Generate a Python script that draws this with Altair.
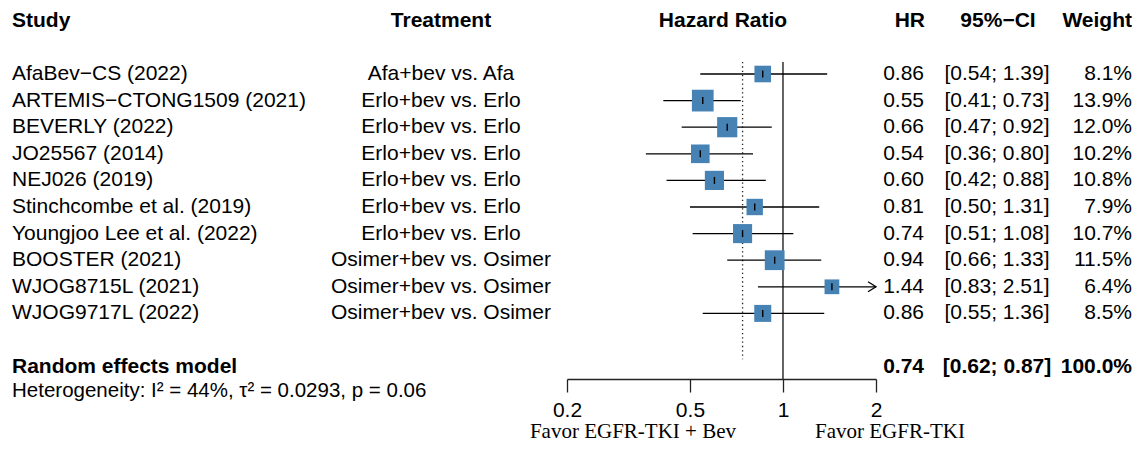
import altair as alt
import pandas as pd

# ---------------- data ----------------
studies = ["AfaBev\u2212CS (2022)", "ARTEMIS\u2212CTONG1509 (2021)", "BEVERLY (2022)",
           "JO25567 (2014)", "NEJ026 (2019)", "Stinchcombe et al. (2019)",
           "Youngjoo Lee et al. (2022)", "BOOSTER (2021)", "WJOG8715L (2021)",
           "WJOG9717L (2022)"]
treatments = ["Afa+bev vs. Afa", "Erlo+bev vs. Erlo", "Erlo+bev vs. Erlo",
              "Erlo+bev vs. Erlo", "Erlo+bev vs. Erlo", "Erlo+bev vs. Erlo",
              "Erlo+bev vs. Erlo", "Osimer+bev vs. Osimer", "Osimer+bev vs. Osimer",
              "Osimer+bev vs. Osimer"]
hr = [0.86, 0.55, 0.66, 0.54, 0.60, 0.81, 0.74, 0.94, 1.44, 0.86]
lower = [0.54, 0.41, 0.47, 0.36, 0.42, 0.50, 0.51, 0.66, 0.83, 0.55]
upper = [1.39, 0.73, 0.92, 0.80, 0.88, 1.31, 1.08, 1.33, 2.51, 1.36]
weights = [8.1, 13.9, 12.0, 10.2, 10.8, 7.9, 10.7, 11.5, 6.4, 8.5]

pooled_hr = 0.74
pooled_lo = 0.62
pooled_hi = 0.87
pooled_weight = 100.0

axis_ticks = [0.2, 0.5, 1, 2]
x_limits = [0.2, 2]
headers = ["Study", "Treatment", "Hazard Ratio", "HR", "95%\u2212CI", "Weight"]
model_label = "Random effects model"
heterogeneity = "Heterogeneity: I\u00b2 = 44%, \u03c4\u00b2 = 0.0293, p = 0.06"
favor_left = "Favor EGFR-TKI + Bev"
favor_right = "Favor EGFR-TKI"

# ---------------- layout (styles / positions) ----------------
W, H = 1124, 438
SANS = "Liberation Sans"
SERIF = "Liberation Serif"
FS = 21
ROW_HEADER = -1
ROW_MODEL = 12
ROW_HET = 12.9
ROW_FAVOR = 14.45
LINE_TOP = 0.55
LINE_AXIS = 12.47
DOT_BOTTOM = 11.72
DIAMOND_HALF = 0.245

rows = list(range(1, len(studies) + 1))
df = pd.DataFrame({
    "row": rows,
    "study": studies,
    "treat": treatments,
    "hr": hr,
    "lo": lower,
    "hi": upper,
    "hi_draw": [min(u, x_limits[1]) for u in upper],
    "w": weights,
    "hr_txt": [f"{v:.2f}" for v in hr],
    "ci_txt": [f"[{l:.2f}; {u:.2f}]" for l, u in zip(lower, upper)],
    "w_txt": [f"{v:.1f}%" for v in weights],
})
df_arrow = df[df["hi"] > x_limits[1]].assign(xa=x_limits[1])

x_scale = alt.Scale(type="log", domain=x_limits, range=[559, 868])
x_axis = alt.Axis(values=axis_ticks, orient="bottom", offset=-(H - 371), tickSize=13,
                  domainColor="#222222", tickColor="#222222", domainWidth=1.3,
                  tickWidth=1.3, labelFontSize=FS, labelFont=SANS, labelColor="black",
                  labelPadding=7, title=None, grid=False, labelFlush=False,
                  labelOverlap=False, format="~g")
y_scale = alt.Scale(domain=[1, 10], range=[66, 305.4], zero=False, nice=False)


def X(field):
    return alt.X(field, type="quantitative", scale=x_scale, axis=x_axis)


def Y(field="row"):
    return alt.Y(field, type="quantitative", scale=y_scale, axis=None)


# reference lines
ref_df = pd.DataFrame({"x": [1], "y": [LINE_TOP], "y2": [LINE_AXIS]})
null_line = alt.Chart(ref_df).mark_rule(color="#222222", strokeWidth=1.4).encode(
    x=X("x"), y=Y("y"), y2="y2")
pool_df = pd.DataFrame({"x": [pooled_hr], "y": [LINE_TOP], "y2": [DOT_BOTTOM]})
pool_line = alt.Chart(pool_df).mark_rule(color="#222222", strokeWidth=1.3,
                                         strokeDash=[1.3, 3]).encode(
    x=X("x"), y=Y("y"), y2="y2")

ci = alt.Chart(df).mark_rule(color="black", strokeWidth=1.3).encode(
    x=X("lo"), x2="hi_draw", y=Y())
squares = alt.Chart(df).mark_square(filled=True, color="#4682B4", opacity=1).encode(
    x=X("hr"), y=Y(),
    size=alt.Size("w:Q", scale=alt.Scale(domain=[0, 14], range=[0, 476]), legend=None))
centers = alt.Chart(df).mark_point(shape="M0,-1L0,1", size=49, filled=False,
                                   stroke="black", strokeWidth=1.4, opacity=1).encode(
    x=X("hr"), y=Y())
arrows = alt.Chart(df_arrow).mark_point(shape="M-1.6,-1L0,0L-1.6,1", size=100,
                                        filled=False, stroke="black",
                                        strokeWidth=1.3, opacity=1).encode(
    x=X("xa"), y=Y())

dia_df = pd.DataFrame({
    "x": [pooled_lo, pooled_hr, pooled_hi],
    "y": [ROW_MODEL, ROW_MODEL - DIAMOND_HALF, ROW_MODEL],
    "y2": [ROW_MODEL, ROW_MODEL + DIAMOND_HALF, ROW_MODEL],
})
diamond = alt.Chart(dia_df).mark_area(color="#A5232B", orient="vertical",
                                      opacity=1).encode(
    x=X("x"), y=Y("y"), y2="y2", order="x:Q")


def txt(data, field, x, align, bold=False, size=FS, font=SANS):
    kw = dict(align=align, baseline="middle", font=font, fontSize=size,
              color="black", fontWeight="bold" if bold else "normal")
    return alt.Chart(data).mark_text(**kw).encode(
        x=alt.value(x), y=Y(), text=alt.Text(field, type="nominal"))


hdr = pd.DataFrame({"row": [ROW_HEADER] * len(headers), "t": headers})
layers = [
    null_line, pool_line, ci, squares, centers, arrows, diamond,
    txt(df, "study", 4, "left"),
    txt(df, "treat", 433, "center"),
    txt(df, "hr_txt", 916, "right"),
    txt(df, "ci_txt", 989, "center"),
    txt(df, "w_txt", 1124, "right"),
    txt(hdr[hdr.t == "Study"], "t", 4, "left", bold=True),
    txt(hdr[hdr.t == "Treatment"], "t", 433, "center", bold=True),
    txt(hdr[hdr.t == "Hazard Ratio"], "t", 715, "center", bold=True),
    txt(hdr[hdr.t == "HR"], "t", 917, "right", bold=True),
    txt(hdr[hdr.t == "95%\u2212CI"], "t", 990, "center", bold=True),
    txt(hdr[hdr.t == "Weight"], "t", 1124, "right", bold=True),
]

model_df = pd.DataFrame({
    "row": [ROW_MODEL],
    "label": [model_label],
    "hr_txt": [f"{pooled_hr:.2f}"],
    "ci_txt": [f"[{pooled_lo:.2f}; {pooled_hi:.2f}]"],
    "w_txt": [f"{pooled_weight:.1f}%"],
})
layers += [
    txt(model_df, "label", 4, "left", bold=True),
    txt(model_df, "hr_txt", 916, "right", bold=True),
    txt(model_df, "ci_txt", 989, "center", bold=True),
    txt(model_df, "w_txt", 1124, "right", bold=True),
]
het_df = pd.DataFrame({"row": [ROW_HET], "t": [heterogeneity]})
layers.append(txt(het_df, "t", 4, "left", size=20.5))
fav_df = pd.DataFrame({"row": [ROW_FAVOR, ROW_FAVOR], "t": [favor_left, favor_right]})
layers.append(txt(fav_df[fav_df.t == favor_left], "t", 728, "right", size=21, font=SERIF))
layers.append(txt(fav_df[fav_df.t == favor_right], "t", 807, "left", size=21, font=SERIF))

chart = alt.layer(*layers).properties(
    width=W, height=H, autosize=alt.AutoSizeParams(type="none"), padding=0,
    background="white",
).configure_view(stroke=None)

chart.save("out.html", embed_options={"renderer": "svg", "actions": False})
